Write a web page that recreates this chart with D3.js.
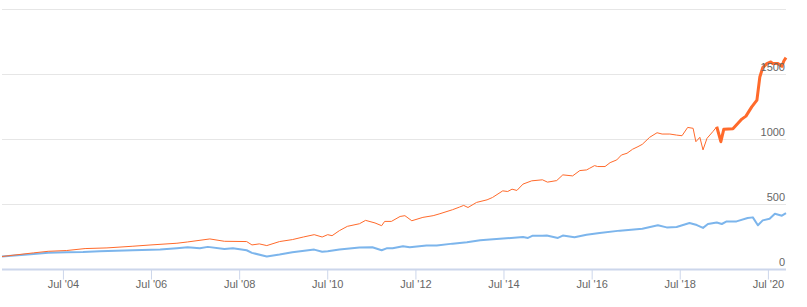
<!DOCTYPE html>
<html>
<head>
<meta charset="utf-8">
<script src="https://cdn.jsdelivr.net/npm/d3@7"></script>
<style>
  html, body { margin: 0; padding: 0; background: #fff; }
  svg { display: block; font-family: "Lucida Grande", "Lucida Sans Unicode", Arial, "Liberation Sans", sans-serif; }
</style>
</head>
<body>
<div id="chart"></div>
<script>
// orange series (monthly-ish readings)
const orangeDates = [
  '2003-02-12','2003-11-01','2004-03-01','2004-08-01','2005-01-01','2005-07-01','2006-02-01','2006-07-01',
  '2007-02-01','2007-05-01','2007-11-01','2008-03-01','2008-09-01','2008-10-15','2008-12-15','2009-02-15',
  '2009-06-01','2009-09-15','2009-12-15','2010-03-15','2010-05-20','2010-07-05','2010-08-10','2010-10-10',
  '2010-12-15','2011-03-25','2011-05-15','2011-08-01','2011-09-25','2011-10-20','2011-12-15','2012-02-25',
  '2012-04-05','2012-06-01','2012-09-01','2012-11-25','2013-01-20','2013-05-05','2013-07-01','2013-08-05',
  '2013-09-10','2013-11-20','2014-02-15','2014-04-01','2014-06-25','2014-08-05','2014-09-10','2014-10-20',
  '2014-12-10','2015-02-20','2015-05-20','2015-07-01','2015-09-15','2015-11-05','2016-01-25','2016-03-25',
  '2016-05-20','2016-06-15','2016-07-25','2016-08-20','2016-10-20','2016-12-01','2017-01-25','2017-03-05',
  '2017-04-20','2017-06-05','2017-07-20','2017-08-25','2017-10-25','2017-12-25','2018-02-05','2018-04-10',
  '2018-06-05','2018-07-20','2018-09-05','2018-10-20','2018-11-12','2018-12-15','2019-01-10','2019-02-12',
  '2019-04-01','2019-05-04','2019-06-07','2019-07-01','2019-09-15','2019-11-28','2020-01-01','2020-02-18',
  '2020-04-01','2020-04-25','2020-05-19','2020-06-22','2020-07-25','2020-08-10','2020-09-22','2020-10-25',
  '2020-11-10','2020-11-28'
];
const orangeValues = [
  100, 128, 140, 146, 161, 166, 179, 189,
  202, 212, 235, 217, 215, 189, 197, 184,
  215, 230, 250, 268, 250, 268, 260, 299,
  332, 352, 378, 358, 337, 370, 370, 408,
  414, 375, 401, 414, 429, 460, 480, 493,
  477, 516, 536, 554, 605, 600, 618, 608,
  657, 682, 690, 672, 684, 728, 720, 761,
  766, 779, 799, 792, 792, 822, 843, 881,
  894, 925, 945, 963, 1017, 1052, 1042, 1042,
  1034, 1029, 1093, 1086, 983, 1017, 920, 1009,
  1060, 1098, 983, 1078, 1083, 1157, 1180, 1251,
  1303, 1481, 1553, 1584, 1596, 1584, 1584, 1563,
  1604, 1630
];
// date where the orange line switches to the bold zone
const orangeZoneStart = '2019-05-04';

// blue series
const blueDates = [
  '2003-02-12','2003-11-01','2004-03-01','2004-08-01','2004-12-15','2005-05-01','2006-02-01','2006-09-15',
  '2007-02-01','2007-05-01','2007-08-10','2007-10-15','2008-03-01','2008-05-10','2008-09-01','2008-10-15',
  '2009-02-15','2009-06-01','2009-09-15','2010-03-15','2010-05-20','2010-07-05','2010-10-10','2011-03-25',
  '2011-07-10','2011-09-25','2011-11-05','2011-12-25','2012-03-20','2012-05-15','2012-10-01','2012-12-25',
  '2013-05-05','2013-09-01','2013-12-20','2014-03-10','2014-07-25','2014-12-10','2015-01-20','2015-03-01',
  '2015-05-20','2015-06-25','2015-09-25','2015-11-05','2016-02-10','2016-05-20','2016-09-05','2017-02-20',
  '2017-08-25','2018-01-01','2018-03-15','2018-06-05','2018-09-20','2018-11-20','2019-01-10','2019-02-20',
  '2019-05-04','2019-06-15','2019-07-25','2019-10-15','2020-01-15','2020-02-27','2020-04-09','2020-05-19',
  '2020-07-15','2020-08-28','2020-10-25','2020-11-28'
];
const blueValues = [
  100, 120, 128, 133, 135, 140, 148, 153,
  163, 171, 163, 174, 158, 163, 148, 128,
  100, 115, 133, 153, 136, 140, 153, 169,
  171, 148, 163, 163, 179, 171, 184, 184,
  199, 209, 225, 230, 240, 250, 243, 260,
  260, 261, 243, 261, 248, 268, 281, 299,
  314, 340, 324, 327, 358, 342, 320, 350,
  362, 350, 370, 370, 396, 401, 340, 378,
  391, 429, 414, 434
];

const yTicks = [0, 500, 1000, 1500, 2000];
const xTickDates = ['2004-07-01','2006-07-01','2008-07-01','2010-07-01','2012-07-01',
                    '2014-07-01','2016-07-01','2018-07-01','2020-07-01'];

const W = 807, H = 307;
const parse = d3.timeParse('%Y-%m-%d');

const orange = orangeDates.map((d, i) => ({ date: parse(d), value: orangeValues[i] }));
const blue = blueDates.map((d, i) => ({ date: parse(d), value: blueValues[i] }));
const zoneDate = parse(orangeZoneStart);

const x = d3.scaleTime()
  .domain(d3.extent(orange, d => d.date))
  .range([2, 786]);
const y = d3.scaleLinear()
  .domain([0, 2000])
  .range([269.5, 9.5]);

const svg = d3.select('#chart').append('svg')
  .attr('width', W)
  .attr('height', H);

// grid lines
svg.append('g')
  .selectAll('line')
  .data(yTicks.filter(t => t > 0))
  .join('line')
  .attr('x1', 2).attr('x2', 786)
  .attr('y1', d => y(d)).attr('y2', d => y(d))
  .attr('stroke', '#e6e6e6')
  .attr('stroke-width', 1);

// x axis
const xAxis = d3.axisBottom(x)
  .tickValues(xTickDates.map(parse))
  .tickFormat(d3.timeFormat("Jul '%y"))
  .tickSize(10)
  .tickSizeOuter(0);

const gx = svg.append('g')
  .attr('transform', `translate(0,${y(0)})`)
  .call(xAxis);
gx.select('.domain')
  .attr('stroke', '#ccd6eb')
  .attr('stroke-width', 2)
  .attr('d', 'M2,0H786');
gx.selectAll('.tick line').attr('stroke', '#ccd6eb');
gx.selectAll('.tick text')
  .attr('fill', '#666666')
  .attr('font-size', '11px')
  .attr('font-family', null)
  .attr('dy', null)
  .attr('y', 18);

const line = d3.line()
  .x(d => x(d.date))
  .y(d => y(d.value));

svg.append('path')
  .datum(blue)
  .attr('fill', 'none')
  .attr('stroke', '#7cb5ec')
  .attr('stroke-width', 2)
  .attr('stroke-linejoin', 'round')
  .attr('d', line);

svg.append('path')
  .datum(orange.filter(d => d.date <= zoneDate))
  .attr('fill', 'none')
  .attr('stroke', '#ff6a2b')
  .attr('stroke-width', 1)
  .attr('stroke-linejoin', 'round')
  .attr('d', line);

svg.append('path')
  .datum(orange.filter(d => d.date >= zoneDate))
  .attr('fill', 'none')
  .attr('stroke', '#ff6a2b')
  .attr('stroke-width', 3)
  .attr('stroke-linejoin', 'round')
  .attr('d', line);

// y labels on the right, above their grid line
svg.append('g')
  .selectAll('text')
  .data(yTicks.filter(t => t < 2000))
  .join('text')
  .attr('x', 785)
  .attr('y', d => y(d) - 4)
  .attr('text-anchor', 'end')
  .attr('fill', '#666666')
  .attr('font-size', '11px')
  .text(d => d);
</script>
</body>
</html>
